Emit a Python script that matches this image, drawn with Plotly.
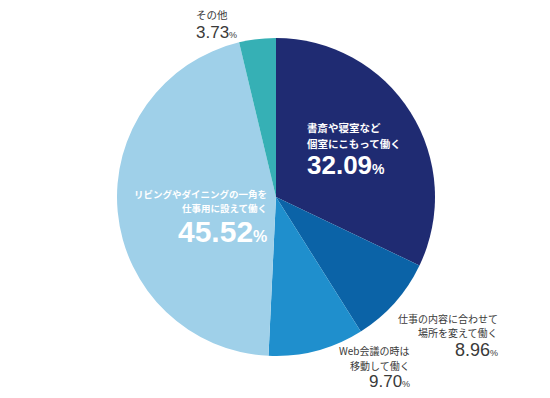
import plotly.graph_objects as go

labels = ["書斎や寝室など<br>個室にこもって働く",
          "仕事の内容に合わせて<br>場所を変えて働く",
          "Web会議の時は<br>移動して働く",
          "リビングやダイニングの一角を<br>仕事用に設えて働く",
          "その他"]
values = [32.09, 8.96, 9.70, 45.52, 3.73]
colors = ["#1f2b72", "#0b63a7", "#1f8fcd", "#9fd0e9", "#36b0b5"]

W, H = 550, 398

fig = go.Figure(go.Pie(
    labels=labels, values=values, sort=False, direction="clockwise", rotation=0,
    marker=dict(colors=colors, line=dict(width=0)),
    textinfo="none", hoverinfo="label+percent", showlegend=False,
    domain=dict(x=[(276-159)/W, (276+159)/W], y=[(201-159)/H, (201+159)/H]),
))

JP = "Noto Sans CJK JP"
NUM = "Liberation Sans, Arial"

# (label index, x px, first line y px, anchor, color, label size, line gap, num y px, num size, weight)
specs = [
    (0, 306, 127.7, "left", "white", 10.5, 15.3, 165.2, 26, 700),
    (1, 499, 318.2, "right", "#3a3a3a", 10, 14.6, 350.2, 18, 400),
    (2, 411, 350.4, "right", "#3a3a3a", 10, 14.6, 381.9, 17, 400),
    (3, 268, 193.7, "right", "white", 9.5, 13.9, 231.3, 30, 700),
    (4, 195, 15, "left", "#3a3a3a", 10.5, 0, 32.1, 17, 400),
]

annotations = []
for idx, xp, yp, anc, col, ls, gap, ny, ns, wt in specs:
    for k, ln in enumerate(labels[idx].split("<br>")):
        annotations.append(dict(
            x=xp / W, y=1 - (yp + k * gap) / H, xref="paper", yref="paper",
            text=ln, showarrow=False, xanchor=anc, yanchor="middle", borderpad=0,
            font=dict(family=JP, size=ls, color=col, weight=wt)))
    numtxt = f"{values[idx]:.2f}<span style='font-size:{int(ns*0.55)}px'>%</span>"
    annotations.append(dict(
        x=xp / W, y=1 - ny / H, xref="paper", yref="paper",
        text=numtxt, showarrow=False, xanchor=anc, yanchor="middle", borderpad=0,
        font=dict(family=NUM, size=ns, color=col, weight=700 if idx in (0, 3) else 400)))

fig.update_layout(
    width=W, height=H, margin=dict(l=0, r=0, t=0, b=0),
    paper_bgcolor="white", plot_bgcolor="white",
    annotations=annotations,
)

fig.write_html("out.html", config={"displayModeBar": False},
               post_script="document.body.style.margin='0';")
